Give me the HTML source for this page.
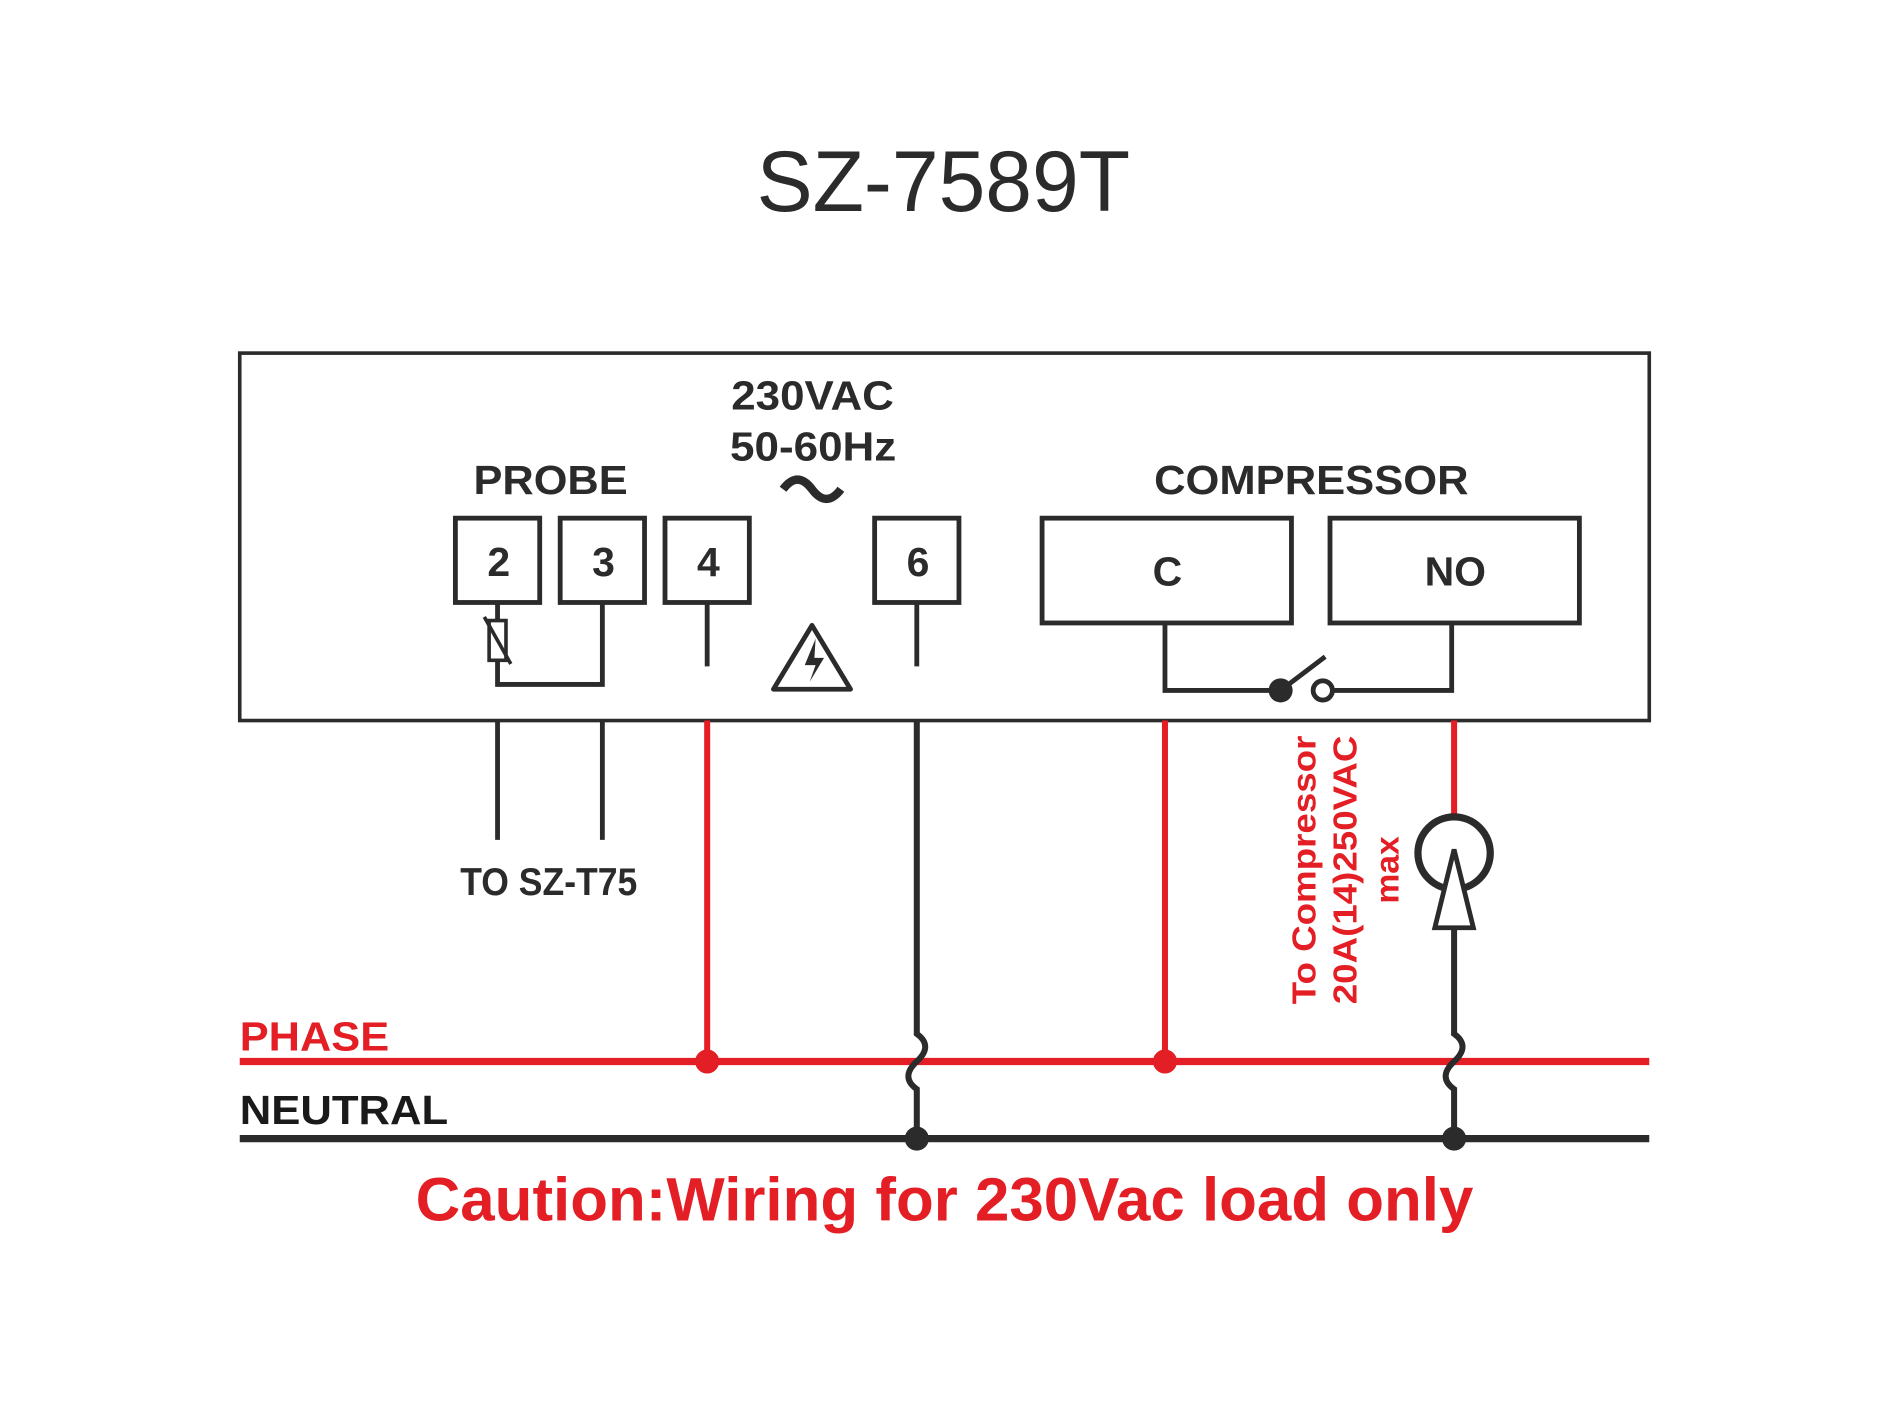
<!DOCTYPE html>
<html><head><meta charset="utf-8"><style>
html,body{margin:0;padding:0;background:#fff;}
svg{display:block;}
text{font-family:"Liberation Sans",Arial,sans-serif;}
</style></head><body>
<svg width="1889" height="1417" viewBox="0 0 1568 1176" xmlns="http://www.w3.org/2000/svg">
<rect width="1568" height="1176" fill="#fff"/>
<text x="628" y="175" font-size="72" textLength="310" lengthAdjust="spacingAndGlyphs" fill="#2b2b2b">SZ-7589T</text>
<rect x="199" y="293" width="1170" height="305" fill="none" stroke="#2b2b2b" stroke-width="3"/>
<g font-weight="bold" fill="#2b2b2b" font-size="34">
<text x="607" y="340" textLength="135" lengthAdjust="spacingAndGlyphs">230VAC</text>
<text x="606" y="382" textLength="138" lengthAdjust="spacingAndGlyphs">50-60Hz</text>
<text x="393" y="410" textLength="128" lengthAdjust="spacingAndGlyphs">PROBE</text>
<text x="958" y="410" textLength="261" lengthAdjust="spacingAndGlyphs">COMPRESSOR</text>
</g>
<g font-weight="bold" fill="#2b2b2b" text-anchor="middle" font-size="34">
<text x="414" y="478">2</text>
<text x="501" y="478">3</text>
<text x="588" y="478">4</text>
<text x="762" y="478">6</text>
<text x="969" y="486">C</text>
<text x="1208" y="486">NO</text>
</g>
<path d="M650 406 q12 -16 24 0 t24 0" fill="none" stroke="#2b2b2b" stroke-width="7"/>
<g fill="none" stroke="#2b2b2b" stroke-width="4">
<rect x="378" y="430" width="70" height="70"/>
<rect x="465" y="430" width="70" height="70"/>
<rect x="552" y="430" width="70" height="70"/>
<rect x="726" y="430" width="70" height="70"/>
<rect x="865" y="430" width="207" height="87"/>
<rect x="1104" y="430" width="207" height="87"/>
<path d="M413 500 V515 M413 548 V568 H500 V500"/>
<rect x="406" y="515" width="14" height="33" stroke-width="3"/>
<path d="M402 512 L424 551" stroke-width="3"/>
<path d="M587 500 V553 M761 500 V553"/>
<path d="M674 519 L706 572 H642 Z" stroke-linejoin="round"/>
<path d="M967 517 V573 H1063 M1063 573 L1100 545 M1106 573 H1205 V517"/>
<circle cx="1098" cy="573" r="8" fill="#fff"/>
</g>
<path d="M677 530 L668 552 H677 L672 566 L684 546 H676 Z" fill="#2b2b2b"/>
<circle cx="1063" cy="573" r="10" fill="#2b2b2b"/>
<g stroke="#2b2b2b" stroke-width="4"><path d="M413 598 V697 M500 598 V697"/></g>
<text x="382" y="743" font-size="32" font-weight="bold" textLength="147" lengthAdjust="spacingAndGlyphs" fill="#2b2b2b">TO SZ-T75</text>
<g stroke="#e31e24" stroke-width="5" fill="none">
<path d="M587 598 V881 M967 598 V881 M1207 598 V677"/>
<path d="M199 881 H1369" stroke-width="6"/>
</g>
<g stroke="#2b2b2b" stroke-width="5" fill="none">
<path d="M761 598 V858 q14 10 0 23 t0 23 V945"/>
<path d="M1207 770 V858 q14 10 0 23 t0 23 V945"/>
<path d="M199 945 H1369" stroke-width="6"/>
<circle cx="1207" cy="708" r="30" stroke-width="6"/>
<path d="M1207 705 L1223 770 H1191 Z" fill="#fff" stroke-width="4"/>
</g>
<circle cx="587" cy="881" r="10" fill="#e31e24"/>
<circle cx="967" cy="881" r="10" fill="#e31e24"/>
<circle cx="761" cy="945" r="10" fill="#2b2b2b"/>
<circle cx="1207" cy="945" r="10" fill="#2b2b2b"/>
<text x="199" y="872" font-size="34" font-weight="bold" textLength="124" lengthAdjust="spacingAndGlyphs" fill="#e31e24">PHASE</text>
<text x="199" y="933" font-size="34" font-weight="bold" textLength="173" lengthAdjust="spacingAndGlyphs" fill="#1a1a1a">NEUTRAL</text>
<text x="345" y="1013" font-size="51" font-weight="bold" textLength="878" lengthAdjust="spacingAndGlyphs" fill="#e31e24">Caution:Wiring for 230Vac load only</text>
<g font-size="28" font-weight="bold" fill="#e31e24" text-anchor="middle">
<text transform="translate(1092 722) rotate(-90)" textLength="223" lengthAdjust="spacingAndGlyphs">To Compressor</text>
<text transform="translate(1126 722) rotate(-90)" textLength="223" lengthAdjust="spacingAndGlyphs">20A(14)250VAC</text>
<text transform="translate(1161 722) rotate(-90)">max</text>
</g>
</svg>
</body></html>
